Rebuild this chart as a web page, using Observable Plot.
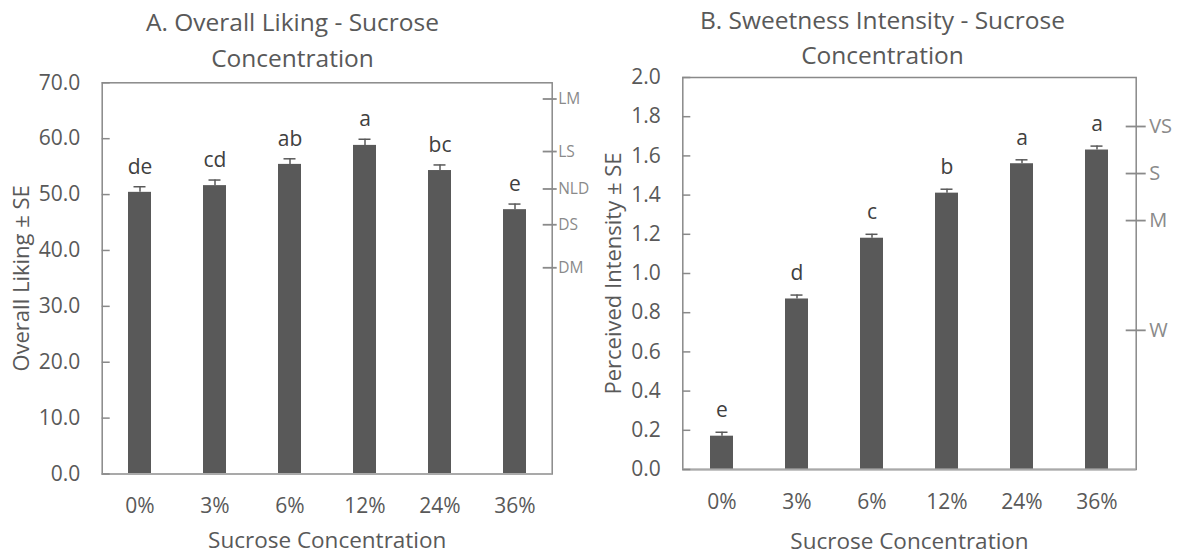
<!DOCTYPE html>
<html><head><meta charset="utf-8">
<script src="https://cdn.jsdelivr.net/npm/d3@7"></script>
<script src="https://cdn.jsdelivr.net/npm/@observablehq/plot@0.6"></script>
<style>
html,body{margin:0;padding:0;background:#fff;}
#wrap{display:flex;width:1178px;height:557px;overflow:hidden;background:#fff;}
#wrap svg{display:block;flex:none;}
</style></head><body><div id="wrap"></div>
<script>
// ---- data ----
const categories = ["0%", "3%", "6%", "12%", "24%", "36%"];

const likingMean = [50.4, 51.6, 55.4, 58.8, 54.3, 47.3];
const likingSE   = [1.0, 1.0, 1.0, 1.1, 1.0, 1.0];
const likingLetters = ["de", "cd", "ab", "a", "bc", "e"];
const likingTicks = [0, 10, 20, 30, 40, 50, 60, 70];
const likingAnchorValues = [67.1, 57.7, 51.0, 44.6, 36.9];
const likingAnchorLabels = ["LM", "LS", "NLD", "DS", "DM"];

const sweetMean = [0.17, 0.87, 1.18, 1.41, 1.56, 1.63];
const sweetSE   = [0.02, 0.02, 0.02, 0.02, 0.02, 0.02];
const sweetLetters = ["e", "d", "c", "b", "a", "a"];
const sweetTicks = [0, 0.2, 0.4, 0.6, 0.8, 1.0, 1.2, 1.4, 1.6, 1.8, 2.0];
const sweetAnchorValues = [1.75, 1.51, 1.27, 0.71];
const sweetAnchorLabels = ["VS", "S", "M", "W"];

const titleA = "A. Overall Liking - Sucrose\nConcentration";
const titleB = "B. Sweetness Intensity - Sucrose\nConcentration";
const xTitle = "Sucrose Concentration";
const yTitleA = "Overall Liking \u00B1 SE";
const yTitleB = "Perceived Intensity \u00B1 SE";

// ---- drawing ----
const BAR = "#595959", TXT = "#595959", FRAME = "#898989";

function panel(o) {
  const data = categories.map((c, i) => ({cat: c, mean: o.mean[i], se: o.se[i], letter: o.letters[i]}));
  const anchorMap = new Map(o.anchorValues.map((v, i) => [v, o.anchorLabels[i]]));
  return Plot.plot({
    width: o.width, height: 557,
    marginLeft: o.mL, marginRight: o.mR, marginTop: o.mT, marginBottom: o.mB,
    style: {fontFamily: "'Open Sans', sans-serif", background: "transparent", overflow: "visible"},
    x: {type: "band", domain: categories, paddingInner: 0.69, paddingOuter: 0.345, label: null},
    y: {domain: o.yDomain, label: null},
    marks: [
      Plot.barY(data, {x: "cat", y: "mean", fill: BAR}),
      Plot.ruleX(data, {x: "cat", y1: "mean", y2: d => d.mean + d.se, stroke: BAR, strokeWidth: 1.5}),
      Plot.tickY(data, {x: "cat", y: d => d.mean + d.se, stroke: BAR, strokeWidth: 1.5, insetLeft: 5.5, insetRight: 5.5}),
      Plot.text(data, {x: "cat", y: d => d.mean + d.se, text: "letter", lineAnchor: "bottom", dy: -o.letterGap, fontSize: 21, fill: "#404040"}),
      Plot.frame({stroke: FRAME, strokeWidth: 1.5}),
      Plot.ruleY([o.yDomain[0]], {stroke: "#a9a9a9", strokeWidth: 2}),
      // left tick labels
      Plot.axisY({ticks: o.ticks, tickSize: 0, tickPadding: 22, tickFormat: d3.format(".1f"), fontSize: 21, color: TXT, label: null}),
      // inward ticks
      Plot.axisY({ticks: o.ticks, tickSize: 8, dx: 8, tickFormat: () => "", color: FRAME, strokeWidth: 1.5, label: null}),
      // right descriptive anchors
      Plot.axisY({anchor: "right", ticks: o.anchorValues, tickSize: o.rTick, dx: -o.rIn, tickPadding: o.rPad,
        tickFormat: d => anchorMap.get(d), fontSize: o.rFont, color: "#8a8a8a", strokeWidth: 1.8, label: null}),
      Plot.axisX({tickSize: 0, tickPadding: o.xPad, fontSize: 21, color: TXT, label: null}),
      // titles
      Plot.text([o.title], {text: d => d, frameAnchor: "top", dx: o.titleDx, dy: o.titleDy, lineAnchor: "bottom", lineHeight: 1.43, fontSize: 24.5, fill: TXT}),
      Plot.text([xTitle], {text: d => d, frameAnchor: "bottom", dy: o.xTitleDy, lineAnchor: "bottom", fontSize: 22.5, fill: TXT}),
      Plot.text([o.yTitle], {text: d => d, frameAnchor: "left", dx: o.yTitleDx, rotate: -90, textAnchor: "middle", lineAnchor: "middle", fontSize: 22, fill: TXT})
    ]
  });
}

const wrap = document.getElementById("wrap");
wrap.appendChild(panel({
  width: 585, mL: 101.7, mR: 33.3, mT: 82.3, mB: 83.5,
  yDomain: [0, 70], ticks: likingTicks,
  mean: likingMean, se: likingSE, letters: likingLetters, letterGap: 13,
  anchorValues: likingAnchorValues, anchorLabels: likingAnchorLabels,
  rTick: 14, rIn: 10, rPad: 2, rFont: 15.5, xPad: 24, xTitleDy: 74,
  title: titleA, titleDx: -34.7, titleDy: -16.3,
  yTitle: yTitleA, yTitleDx: -80.7
}));
wrap.appendChild(panel({
  width: 593, mL: 97.3, mR: 42.3, mT: 77, mB: 88,
  yDomain: [0, 2], ticks: sweetTicks,
  mean: sweetMean, se: sweetSE, letters: sweetLetters, letterGap: 15,
  anchorValues: sweetAnchorValues, anchorLabels: sweetAnchorLabels,
  rTick: 20, rIn: 11, rPad: 4, rFont: 20, xPad: 25, xTitleDy: 79,
  title: titleB, titleDx: -27, titleDy: -13.7,
  yTitle: yTitleB, yTitleDx: -68.8
}));
</script></body></html>
